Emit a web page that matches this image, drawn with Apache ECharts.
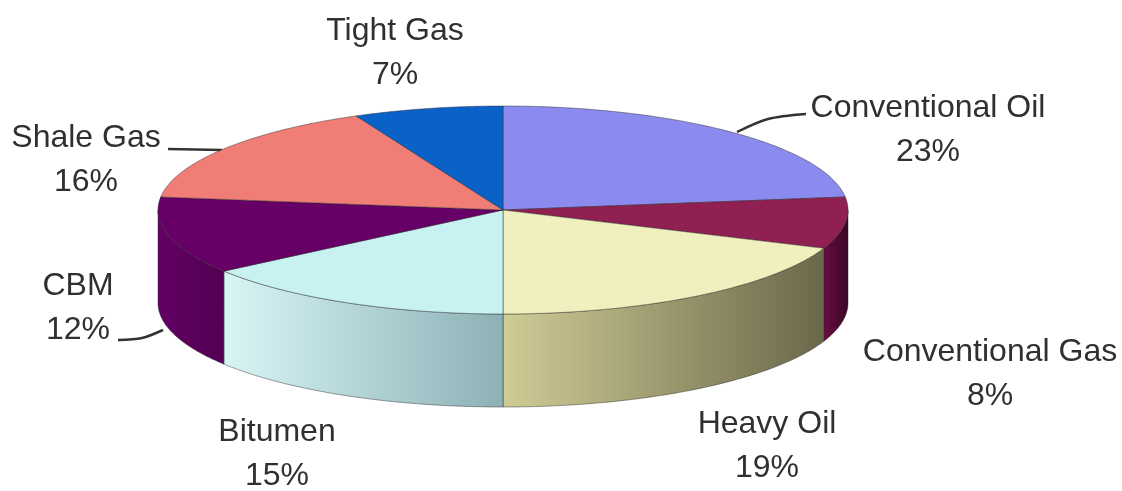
<!DOCTYPE html>
<html>
<head>
<meta charset="utf-8">
<style>html,body{margin:0;padding:0;background:#fff}#chart{width:1122px;height:491px}</style>
<script src="https://cdn.jsdelivr.net/npm/echarts@6/dist/echarts.min.js"></script>
</head>
<body>
<div id="chart"></div>
<script>
// slices, clockwise from 12 o'clock
const names = ['Conventional Oil', 'Conventional Gas', 'Heavy Oil', 'Bitumen', 'CBM', 'Shale Gas', 'Tight Gas'];
const shares = [23, 8, 19, 15, 12, 16, 7];

const topColors = ['#8b8bef', '#902052', '#f0efbe', '#c8f1f1', '#660066', '#f07e76', '#0a62c8'];
const sideColors = [
  ['#6a6ad0', '#5050b0'], ['#6a0e42', '#3a0624'], ['#d0cc96', '#6a684a'],
  ['#d8f5f5', '#8db1b6'], ['#640064', '#520052'], ['#d06058', '#b04840'], ['#0850a8', '#064090']
];

// label layout (centre of the two-line label) and leader lines
const labelPos = [[928, 130], [990, 374], [767, 446], [277, 454], [78, 308], [86, 160], [395, 53]];
const leaders = [
  [[737, 132], [768, 119], [806, 114]], null, null, null,
  [[118, 340], [142, 338], [163, 330]], [[168, 149], [222, 150]], null
];

// 3d pie geometry
const cx = 503, cy = 210, rx = 345, ry = 104, depth = 93;
const total = shares.reduce((a, b) => a + b, 0);

function pt(a, dy) {
  return [cx + rx * Math.sin(a), cy - ry * Math.cos(a) + (dy || 0)];
}

function renderSlice(params, api) {
  const i = params.dataIndex;
  let before = 0;
  for (let k = 0; k < i; k++) before += shares[k];
  const a0 = before / total * 2 * Math.PI;
  const a1 = (before + api.value(0)) / total * 2 * Math.PI;
  const steps = 80;
  const children = [];

  // visible side wall (front half only)
  const s0 = Math.max(a0, Math.PI / 2), s1 = Math.min(a1, 1.5 * Math.PI);
  if (s1 > s0) {
    const upper = [], lower = [];
    for (let s = 0; s <= steps; s++) {
      const a = s0 + (s1 - s0) * s / steps;
      upper.push(pt(a));
      lower.push(pt(a, depth));
    }
    const xs = upper.map(p => p[0]);
    const xmin = Math.min.apply(null, xs), xmax = Math.max.apply(null, xs);
    children.push({
      type: 'polygon',
      shape: { points: upper.concat(lower.reverse()) },
      style: {
        fill: {
          type: 'linear', x: xmin, y: 0, x2: xmax, y2: 0, global: true,
          colorStops: [{ offset: 0, color: sideColors[i][0] }, { offset: 1, color: sideColors[i][1] }]
        },
        stroke: 'rgba(40,40,40,0.45)', lineWidth: 1
      }
    });
  }

  // top face
  const top = [[cx, cy]];
  for (let s = 0; s <= steps; s++) top.push(pt(a0 + (a1 - a0) * s / steps));
  children.push({
    type: 'polygon',
    shape: { points: top },
    style: { fill: topColors[i], stroke: 'rgba(40,40,40,0.45)', lineWidth: 1 }
  });
  return { type: 'group', children: children };
}

const graphics = [];
names.forEach(function (n, i) {
  const p = labelPos[i];
  graphics.push({
    type: 'text', x: p[0], y: p[1], silent: true,
    style: {
      text: n + '\n' + shares[i] + '%',
      font: '32px "Liberation Sans", Arial, sans-serif',
      fill: '#303030', lineHeight: 44,
      align: 'center', verticalAlign: 'middle',
      textAlign: 'center', textVerticalAlign: 'middle'
    }
  });
  if (leaders[i]) {
    graphics.push({
      type: 'polyline', silent: true,
      shape: { points: leaders[i], smooth: 0.3 },
      style: { stroke: '#333', lineWidth: 2.5, fill: null }
    });
  }
});

const myChart = echarts.init(document.getElementById('chart'));
myChart.setOption({
  backgroundColor: '#fff',
  animation: false,
  series: [{
    type: 'custom',
    coordinateSystem: 'none',
    renderItem: renderSlice,
    data: shares
  }],
  graphic: graphics
});
</script>
</body>
</html>
